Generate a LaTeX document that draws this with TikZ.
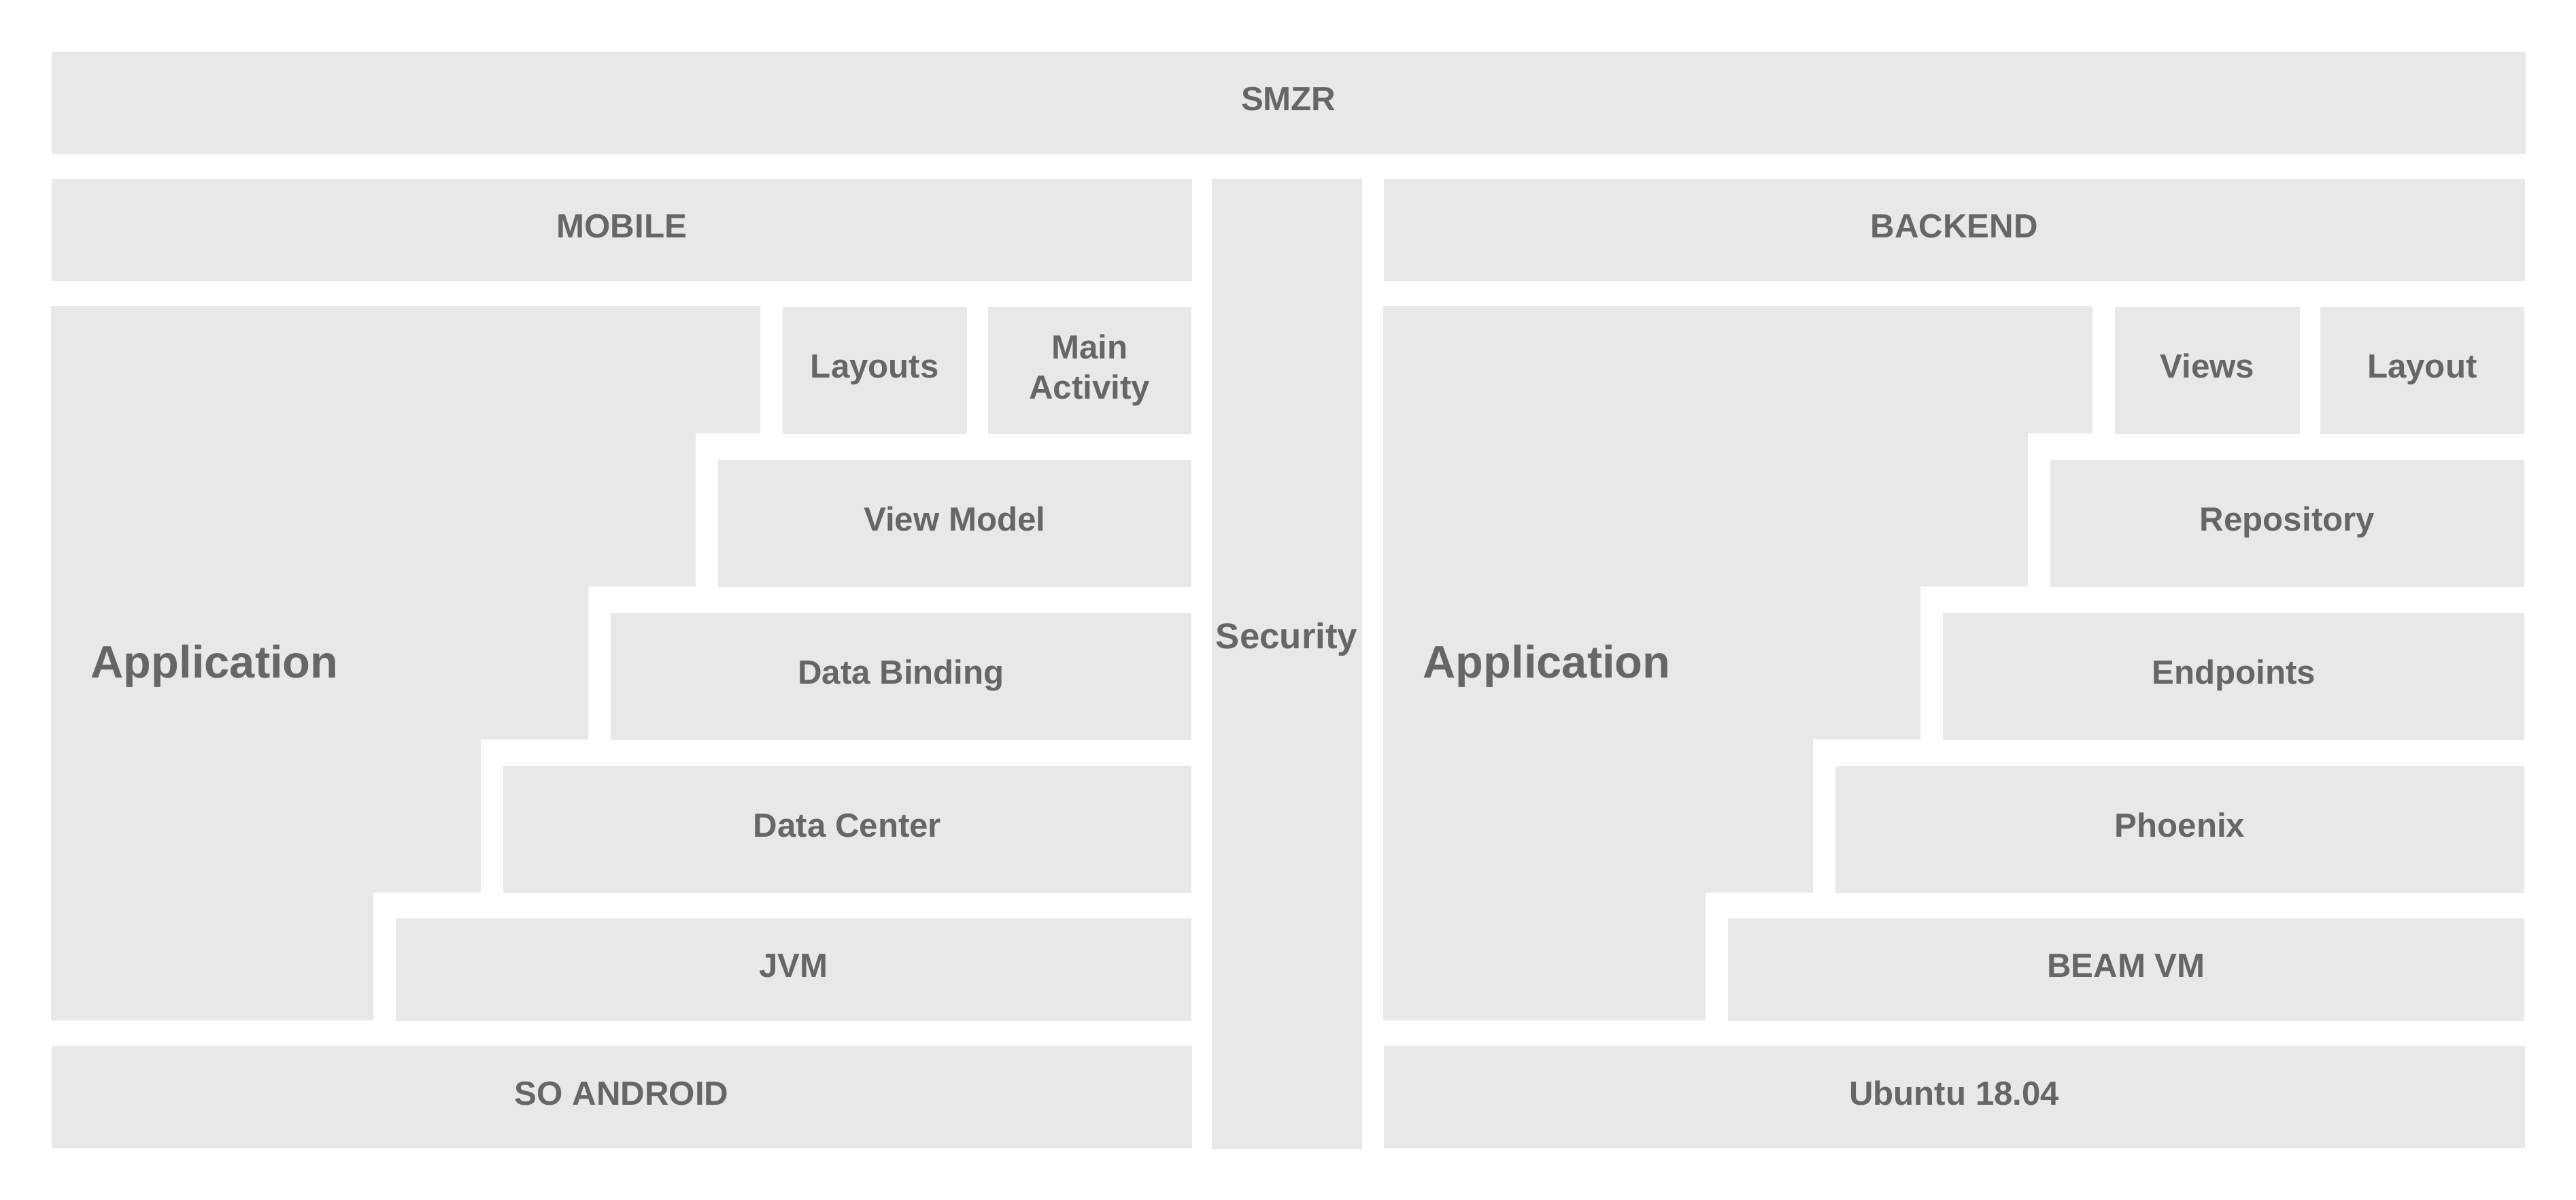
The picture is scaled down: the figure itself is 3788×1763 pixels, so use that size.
\documentclass[tikz,border=0pt]{standalone}
\usepackage{fontspec}
\setmainfont{Liberation Sans}
\usetikzlibrary{positioning}
\definecolor{blockgray}{HTML}{E8E8E8}
\definecolor{labelgray}{HTML}{666666}
\tikzset{
  base/.style  = {fill=blockgray, text=labelgray, inner sep=0pt, anchor=north west,
                  font=\bfseries\fontsize{14}{17}\selectfont, text centered},
  layer/.style = {base, text height=0.35cm, text depth=0.12cm},
  title/.style = {text=labelgray, inner sep=0pt},
}
\begin{document}
\begin{tikzpicture}[x=0.01cm, y=-0.01cm]
        \fill[white] (0,0) rectangle (3788,1763);
        \useasboundingbox (0,0) rectangle (3788,1763);

        % top and columns
        \node[layer, minimum width=36.36cm, minimum height=1.50cm]  (smzr)     at (75,75)    {SMZR};
        \node[layer, minimum width=16.76cm, minimum height=1.50cm]  (mobile)   at (75,262)   {MOBILE};
        \node[base,  minimum width=2.21cm,  minimum height=14.25cm] (security) at (1781,262) {};
        \node[layer, minimum width=16.77cm, minimum height=1.50cm]  (backend)  at (2034,262) {BACKEND};
        \node[title, font=\bfseries\fontsize{15}{18}\selectfont, anchor=base] (securitytxt) at (1892,953) {Security};

        % mobile side
        \fill[blockgray] (75,450) -| (1118,637) -| (1023,862) -| (865,1087)
                         -| (707,1312) -| (549,1500) -| (75,450) -- cycle;
        \node[title, font=\bfseries\fontsize{19}{23}\selectfont, anchor=base west] (mobileapp) at (133,996) {Application};
        \node[layer, minimum width=2.71cm,  minimum height=1.87cm] (layouts)    at (1150,450)  {Layouts};
        \node[layer, minimum width=2.99cm,  minimum height=1.87cm, align=center,
              text height=, text depth=]                         (mainact)    at (1452,450)  {Main\\Activity};
        \node[layer, minimum width=6.96cm,  minimum height=1.87cm] (viewmodel)  at (1055,675)  {View Model};
        \node[layer, minimum width=8.54cm,  minimum height=1.87cm] (databind)   at (897,900)   {Data Binding};
        \node[layer, minimum width=10.12cm, minimum height=1.87cm] (datacenter) at (739,1125)  {Data Center};
        \node[layer, minimum width=11.70cm, minimum height=1.51cm] (jvm)        at (581,1349)  {JVM};
        \node[layer, minimum width=16.76cm, minimum height=1.50cm] (android)    at (75,1537)   {SO ANDROID};

        % backend side
        \fill[blockgray] (2034,450) -| (3077,637) -| (2982,862) -| (2824,1087)
                         -| (2666,1312) -| (2508,1500) -| (2034,450) -- cycle;
        \node[title, font=\bfseries\fontsize{19}{23}\selectfont, anchor=base west] (backendapp) at (2092,996) {Application};
        \node[layer, minimum width=2.72cm,  minimum height=1.87cm] (views)      at (3109,450)  {Views};
        \node[layer, minimum width=3.00cm,  minimum height=1.87cm] (layout)     at (3411,450)  {Layout};
        \node[layer, minimum width=6.97cm,  minimum height=1.87cm] (repository) at (3014,675)  {Repository};
        \node[layer, minimum width=8.55cm,  minimum height=1.87cm] (endpoints)  at (2856,900)  {Endpoints};
        \node[layer, minimum width=10.13cm, minimum height=1.87cm] (phoenix)    at (2698,1125) {Phoenix};
        \node[layer, minimum width=11.71cm, minimum height=1.51cm] (beam)       at (2540,1349) {BEAM VM};
        \node[layer, minimum width=16.77cm, minimum height=1.50cm] (ubuntu)     at (2034,1537) {Ubuntu 18.04};

\end{tikzpicture}
\end{document}
